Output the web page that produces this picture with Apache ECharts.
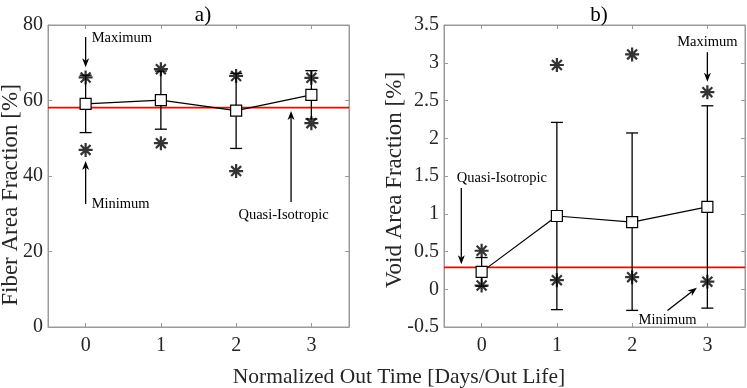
<!DOCTYPE html>
<html>
<head>
<meta charset="utf-8">
<script src="https://cdn.jsdelivr.net/npm/echarts@6/dist/echarts.min.js"></script>
<style>html,body{margin:0;padding:0;background:#fff}#c{width:747px;height:388px}</style>
</head>
<body>
<div id="c"></div>
<script>
// ---- data ----
const xTicks = [0, 1, 2, 3];
const fiberMean = [59.1, 60.1, 57.3, 61.5];
const fiberLow  = [51.5, 52.4, 47.3, 55.1];
const fiberHigh = [66.7, 67.8, 67.2, 67.9];
const fiberMax  = [66.1, 68.3, 66.5, 66.0];
const fiberMin  = [46.9, 48.7, 41.3, 54.0];
const fiberQI   = 58.1;

const voidMean = [0.23, 0.97, 0.89, 1.09];
const voidLow  = [0.04, -0.27, -0.28, -0.25];
const voidHigh = [0.42, 2.21, 2.07, 2.43];
const voidMax  = [0.51, 2.97, 3.11, 2.61];
const voidMin  = [0.05, 0.12, 0.16, 0.10];
const voidQI   = 0.29;

// annotations: arrows [x1,y1,x2,y2] (data units), texts [x,y]
const fiberArrows = [[0, 76.8, 0, 68.8], [0, 32.6, 0, 44.0], [2.73, 33.1, 2.73, 57.2]];
const fiberTexts  = [[0.08, 76.6], [0.08, 32.6], [2.63, 29.7]];
const fiberTextLabels = ['Maximum', 'Minimum', 'Quasi-Isotropic'];
const fiberTextAlign = ['left', 'left', 'center'];

const voidArrows = [[3, 3.14, 3, 2.75], [-0.27, 1.34, -0.27, 0.33], [2.47, -0.28, 2.86, 0.02]];
const voidTexts  = [[3.0, 3.27], [0.27, 1.47], [2.47, -0.41]];
const voidTextLabels = ['Maximum', 'Quasi-Isotropic', 'Minimum'];
const voidTextAlign = ['center', 'center', 'center'];

const FONT = '"Liberation Serif", "Times New Roman", serif';
const AX = '#9a9a9a';
const TXT = '#262626';
const STAR = 'path://M0,-10L0,10M-10,0L10,0M-7.07,-7.07L7.07,7.07M-7.07,7.07L7.07,-7.07';

const grids = [
  {left: 48, top: 25, width: 301, height: 302, show: true, borderColor: AX, borderWidth: 1},
  {left: 444, top: 25, width: 301, height: 302, show: true, borderColor: AX, borderWidth: 1}
];

function xAx(gi, pos) {
  return {
    type: 'value', gridIndex: gi, position: pos, min: -0.5, max: 3.5,
    axisLine: {show: true, onZero: false, lineStyle: {color: AX, width: 1}},
    axisTick: {show: true, inside: true, length: 4, customValues: xTicks, lineStyle: {color: AX}},
    axisLabel: {show: pos === 'bottom', customValues: xTicks, margin: 9, color: TXT, fontFamily: FONT, fontSize: 20},
    splitLine: {show: false}
  };
}
function yAx(gi, pos, min, max, interval) {
  return {
    type: 'value', gridIndex: gi, position: pos, min: min, max: max, interval: interval,
    axisLine: {show: true, onZero: false, lineStyle: {color: AX, width: 1}},
    axisTick: {show: true, inside: true, length: 4, lineStyle: {color: AX}},
    axisLabel: {show: pos === 'left', margin: 5, color: TXT, fontFamily: FONT, fontSize: 20},
    splitLine: {show: false}
  };
}

function errSeries(xi, yi, low, high) {
  return {
    type: 'custom', xAxisIndex: xi, yAxisIndex: yi, z: 3,
    data: xTicks.map((x, i) => [x, low[i], high[i]]),
    renderItem: function (params, api) {
      const x = api.value(0);
      const p1 = api.coord([x, api.value(1)]);
      const p2 = api.coord([x, api.value(2)]);
      const hw = 6;
      const st = {stroke: '#000', lineWidth: 1.3};
      return {type: 'group', children: [
        {type: 'line', shape: {x1: p1[0], y1: p1[1], x2: p2[0], y2: p2[1]}, style: st},
        {type: 'line', shape: {x1: p1[0] - hw, y1: p1[1], x2: p1[0] + hw, y2: p1[1]}, style: st},
        {type: 'line', shape: {x1: p2[0] - hw, y1: p2[1], x2: p2[0] + hw, y2: p2[1]}, style: st}
      ]};
    }
  };
}
function starSeries(xi, yi, vals) {
  return {
    type: 'scatter', xAxisIndex: xi, yAxisIndex: yi, z: 4,
    symbol: STAR, symbolSize: 14,
    itemStyle: {color: 'rgba(0,0,0,0)', borderColor: '#000', borderWidth: 2.2},
    data: xTicks.map((x, i) => [x, vals[i]])
  };
}
function meanSeries(xi, yi, vals) {
  return {
    type: 'line', xAxisIndex: xi, yAxisIndex: yi, z: 5,
    symbol: 'rect', symbolSize: 11, showAllSymbol: true,
    itemStyle: {color: '#fff', borderColor: '#000', borderWidth: 1.2},
    lineStyle: {color: '#000', width: 1.2},
    data: xTicks.map((x, i) => [x, vals[i]])
  };
}
function qiSeries(xi, yi, v) {
  return {
    type: 'line', xAxisIndex: xi, yAxisIndex: yi, z: 2, symbol: 'none',
    lineStyle: {color: '#ff0000', width: 1.6},
    data: [[-0.5, v], [3.5, v]]
  };
}
function arrowSeries(xi, yi, arrows) {
  return {
    type: 'custom', xAxisIndex: xi, yAxisIndex: yi, z: 6,
    data: arrows,
    renderItem: function (params, api) {
      const a = api.coord([api.value(0), api.value(1)]);
      const b = api.coord([api.value(2), api.value(3)]);
      const dx = b[0] - a[0], dy = b[1] - a[1];
      const L = Math.sqrt(dx * dx + dy * dy);
      const ux = dx / L, uy = dy / L;
      const nx = -uy, ny = ux;
      const hl = 9, hw = 3.5, notch = 2.5;
      const base = [b[0] - ux * hl, b[1] - uy * hl];
      return {type: 'group', children: [
        {type: 'line', shape: {x1: a[0], y1: a[1], x2: b[0] - ux * (hl - notch), y2: b[1] - uy * (hl - notch)}, style: {stroke: '#000', lineWidth: 1.3}},
        {type: 'polygon', shape: {points: [
          b, [base[0] + nx * hw, base[1] + ny * hw],
          [b[0] - ux * (hl - notch), b[1] - uy * (hl - notch)],
          [base[0] - nx * hw, base[1] - ny * hw]]}, style: {fill: '#000'}}
      ]};
    }
  };
}
function textSeries(xi, yi, pts, labels, aligns) {
  return {
    type: 'custom', xAxisIndex: xi, yAxisIndex: yi, z: 6,
    data: pts,
    renderItem: function (params, api) {
      const p = api.coord([api.value(0), api.value(1)]);
      return {type: 'text', x: p[0], y: p[1], style: {
        text: labels[params.dataIndex], fill: '#000', font: '14.5px ' + FONT,
        align: aligns[params.dataIndex], verticalAlign: 'middle'}};
    }
  };
}

const chart = echarts.init(document.getElementById('c'), null, {renderer: 'canvas'});
chart.setOption({
  animation: false,
  backgroundColor: '#fff',
  title: [
    {text: 'a)', left: 198, top: 0, textAlign: 'center', textStyle: {fontFamily: FONT, fontSize: 21, fontWeight: 'normal', color: '#000'}},
    {text: 'b)', left: 594, top: 0, textAlign: 'center', textStyle: {fontFamily: FONT, fontSize: 21, fontWeight: 'normal', color: '#000'}},
    {text: 'Normalized Out Time [Days/Out Life]', left: 394, top: 361, textAlign: 'center', textStyle: {fontFamily: FONT, fontSize: 21.5, fontWeight: 'normal', color: TXT}}
  ],
  graphic: [
    {type: 'text', x: 11, y: 195, rotation: Math.PI / 2, style: {text: 'Fiber Area Fraction [%]', fill: TXT, font: '23px ' + FONT, align: 'center', verticalAlign: 'middle'}},
    {type: 'text', x: 395, y: 180, rotation: Math.PI / 2, style: {text: 'Void Area Fraction [%]', fill: TXT, font: '23px ' + FONT, align: 'center', verticalAlign: 'middle'}}
  ],
  grid: grids,
  xAxis: [xAx(0, 'bottom'), xAx(0, 'top'), xAx(1, 'bottom'), xAx(1, 'top')],
  yAxis: [
    yAx(0, 'left', 0, 80, 20),
    yAx(0, 'right', 0, 80, 20),
    yAx(1, 'left', -0.5, 3.5, 0.5),
    yAx(1, 'right', -0.5, 3.5, 0.5)
  ],
  series: [
    qiSeries(0, 0, fiberQI),
    errSeries(0, 0, fiberLow, fiberHigh),
    meanSeries(0, 0, fiberMean),
    starSeries(0, 0, fiberMax),
    starSeries(0, 0, fiberMin),
    arrowSeries(0, 0, fiberArrows),
    textSeries(0, 0, fiberTexts, fiberTextLabels, fiberTextAlign),
    qiSeries(2, 2, voidQI),
    errSeries(2, 2, voidLow, voidHigh),
    meanSeries(2, 2, voidMean),
    starSeries(2, 2, voidMax),
    starSeries(2, 2, voidMin),
    arrowSeries(2, 2, voidArrows),
    textSeries(2, 2, voidTexts, voidTextLabels, voidTextAlign)
  ]
});
</script>
</body>
</html>
